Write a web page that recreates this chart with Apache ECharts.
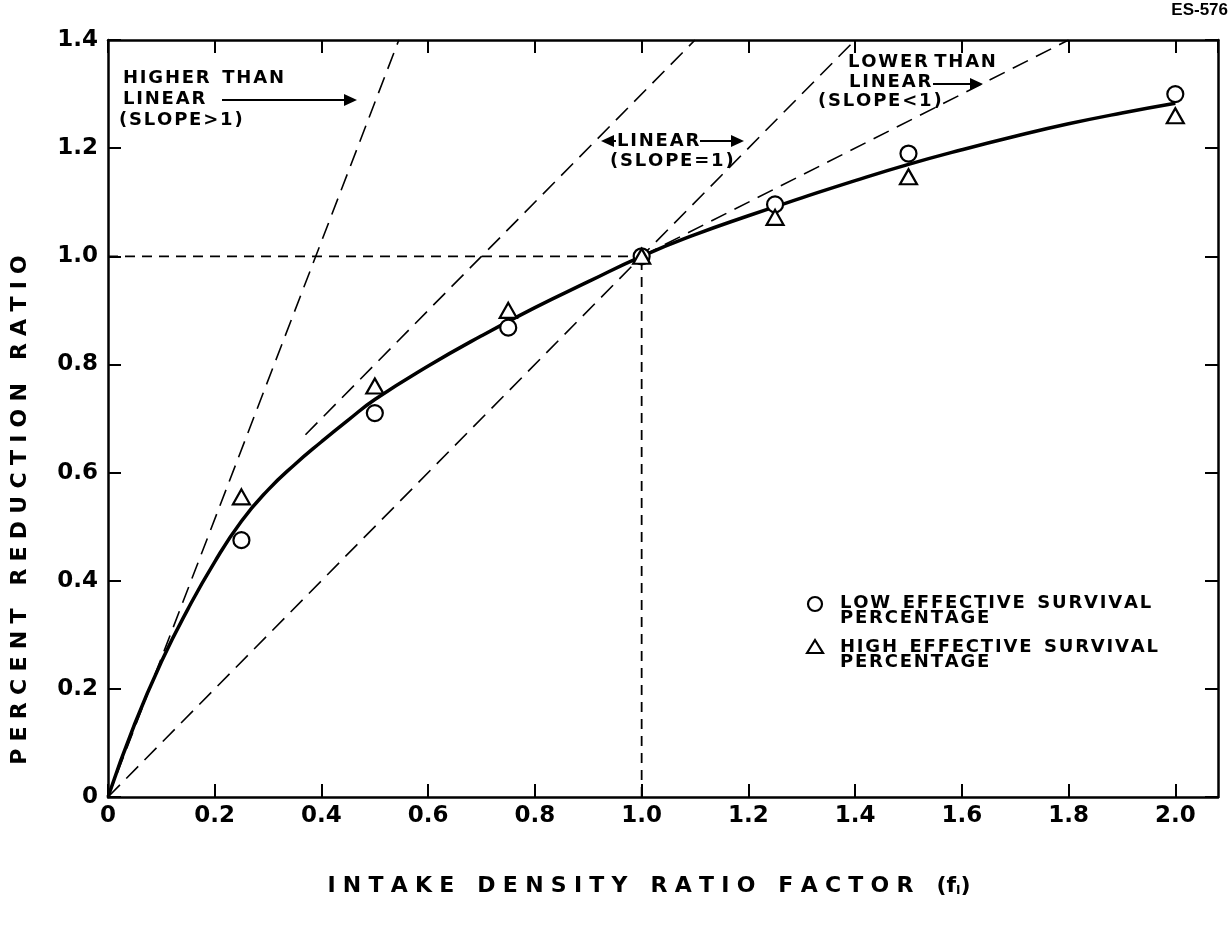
<!DOCTYPE html>
<html>
<head>
<meta charset="utf-8">
<script src="https://cdn.jsdelivr.net/npm/echarts@6/dist/echarts.min.js"></script>
<style>
  html, body { margin: 0; padding: 0; background: #fff; }
  #chart { width: 1231px; height: 928px; }
</style>
</head>
<body>
<div id="chart"></div>
<script>
// ---------------- data ----------------
const xTicks = [0, 0.2, 0.4, 0.6, 0.8, 1.0, 1.2, 1.4, 1.6, 1.8, 2.0];
const yTicks = [0, 0.2, 0.4, 0.6, 0.8, 1.0, 1.2, 1.4];

// fitted (hand drawn) curve
const curveX = [0, 0.05, 0.1, 0.15, 0.2, 0.25, 0.3, 0.35, 0.4, 0.45, 0.5, 0.6, 0.7, 0.8, 0.9, 1.0, 1.1, 1.2, 1.3, 1.4, 1.5, 1.6, 1.7, 1.8, 1.9, 2.0];
const curveY = [0, 0.135, 0.25, 0.348, 0.435, 0.51, 0.568, 0.615, 0.657, 0.697, 0.735, 0.797, 0.853, 0.905, 0.953, 1.0, 1.04, 1.075, 1.108, 1.14, 1.17, 1.197, 1.222, 1.245, 1.265, 1.283];

// low effective survival percentage (circles)
const lowX = [0.25, 0.5, 0.75, 1.0, 1.25, 1.5, 2.0];
const lowY = [0.475, 0.71, 0.868, 1.0, 1.096, 1.19, 1.30];

// high effective survival percentage (triangles)
const highX = [0.25, 0.5, 0.75, 1.0, 1.25, 1.5, 2.0];
const highY = [0.555, 0.76, 0.90, 1.0, 1.072, 1.147, 1.26];

// reference lines (end points)
const steepX = [0, 0.545];   const steepY = [0, 1.4];    // slope > 1
const tangX  = [0.37, 1.1];  const tangY  = [0.67, 1.4]; // slope = 1 (upper)
const linX   = [0, 1.4];     const linY   = [0, 1.4];    // slope = 1 through origin
const lowerX = [1.0, 1.8];   const lowerY = [1.0, 1.4];  // slope < 1
const hRefX  = [0, 1.0];     const hRefY  = [1.0, 1.0];
const vRefX  = [1.0, 1.0];   const vRefY  = [0, 1.0];

const legendNames = ['LOW EFFECTIVE SURVIVAL PERCENTAGE', 'HIGH EFFECTIVE SURVIVAL PERCENTAGE'];

// ---------------- helpers ----------------
const zip = (xs, ys) => xs.map((x, i) => [x, ys[i]]);
const FONT = '"DejaVu Sans", "Liberation Sans", sans-serif';
const HAIR = '\u200A', THREE = '\u2004';
const spaced = (s, g, wg) => s.split(' ').map(w => w.split('').join(g)).join(wg);

function dashLine(name, xs, ys, dash, width) {
  return {
    name, type: 'line', data: zip(xs, ys), showSymbol: false, silent: true,
    lineStyle: { color: '#000', width: width, type: dash }, z: 2
  };
}

const chart = echarts.init(document.getElementById('chart'), null, { renderer: 'canvas' });

const axisCommon = {
  type: 'value',
  splitLine: { show: false },
  axisLine: { show: true, onZero: false, lineStyle: { color: '#000', width: 2.5 } },
  axisTick: { show: true, inside: true, length: 13, lineStyle: { color: '#000', width: 2 } }
};
const tickFmt = v => {
  if (Math.abs(v * 5 - Math.round(v * 5)) > 1e-6) return '';
  return v === 0 ? '0' : v.toFixed(1);
};

const ann = (text, x, y, size, align, wordGap) => ({
  type: 'text', x, y, silent: true,
  style: { text: spaced(text, HAIR, wordGap === undefined ? '  ' : wordGap), fontSize: size, fontWeight: 'bold', fontFamily: FONT, fill: '#000',
           textAlign: align || 'left', textVerticalAlign: 'middle' }
});

const arrowRight = (x1, x2, y) => [
  { type: 'line', shape: { x1, y1: y, x2: x2 - 10, y2: y }, style: { stroke: '#000', lineWidth: 2 }, silent: true },
  { type: 'polygon', shape: { points: [[x2 - 13, y - 6], [x2, y], [x2 - 13, y + 6]] }, style: { fill: '#000' }, silent: true }
];
const arrowLeftHead = (x, y) => ({
  type: 'polygon', shape: { points: [[x + 13, y - 6], [x, y], [x + 13, y + 6]] }, style: { fill: '#000' }, silent: true
});

const option = {
  backgroundColor: '#fff',
  animation: false,
  grid: { left: 108, right: 13, top: 40, bottom: 131, containLabel: false },
  xAxis: [
    Object.assign({}, axisCommon, {
      position: 'bottom', min: 0, max: 2.08, interval: 0.2,
      axisLabel: { formatter: tickFmt, fontSize: 23, fontWeight: 'bold', fontFamily: FONT, color: '#000', margin: 8, showMaxLabel: false }
    }),
    Object.assign({}, axisCommon, {
      position: 'top', min: 0, max: 2.08, interval: 0.2, axisLabel: { show: false }
    })
  ],
  yAxis: [
    Object.assign({}, axisCommon, {
      position: 'left', min: 0, max: 1.4, interval: 0.2,
      axisLabel: { formatter: tickFmt, fontSize: 23, fontWeight: 'bold', fontFamily: FONT, color: '#000', margin: 10 }
    }),
    Object.assign({}, axisCommon, {
      position: 'right', min: 0, max: 1.4, interval: 0.2, axisLabel: { show: false }
    })
  ],
  series: [
    dashLine('steep', steepX, steepY, [17, 9], 1.6),
    dashLine('tangent', tangX, tangY, [17, 9], 1.6),
    dashLine('linear', linX, linY, [17, 9], 1.6),
    dashLine('lower', lowerX, lowerY, [17, 9], 1.6),
    dashLine('hRef', hRefX, hRefY, [10, 7], 1.8),
    dashLine('vRef', vRefX, vRefY, [10, 7], 1.8),
    {
      name: 'curve', type: 'line', data: zip(curveX, curveY), smooth: 0.5,
      showSymbol: false, silent: true, z: 3,
      lineStyle: { color: '#000', width: 3.5 }
    },
    {
      name: legendNames[0], type: 'scatter', data: zip(lowX, lowY), symbol: 'circle', symbolSize: 16, z: 5,
      itemStyle: { color: '#fff', borderColor: '#000', borderWidth: 2.2, opacity: 1 }
    },
    {
      name: legendNames[1], type: 'scatter', data: zip(highX, highY), symbol: 'triangle', symbolSize: [17, 15], z: 5,
      itemStyle: { color: '#fff', borderColor: '#000', borderWidth: 2.2, opacity: 1 }
    }
  ],
  graphic: [
    {
      type: 'text', x: 1228, y: 10, silent: true,
      style: { text: 'ES-576', fontSize: 17, fontWeight: 'bold', fontFamily: '"Liberation Sans", Arial, sans-serif',
               fill: '#000', textAlign: 'right', textVerticalAlign: 'middle' }
    },
    // HIGHER THAN LINEAR
    ann('HIGHER THAN', 123, 78, 18),
    ann('LINEAR', 123, 99, 18),
    ann('(SLOPE>1)', 119, 120, 18),
    ...arrowRight(222, 357, 100),
    // LINEAR
    arrowLeftHead(601, 141),
    { type: 'line', shape: { x1: 610, y1: 141, x2: 616, y2: 141 }, style: { stroke: '#000', lineWidth: 2 }, silent: true },
    ann('LINEAR', 617, 141, 18),
    ...arrowRight(700, 744, 141),
    ann('(SLOPE=1)', 610, 161, 18),
    // LOWER THAN LINEAR
    ann('LOWER THAN', 848, 62, 18, 'left', ' '),
    ann('LINEAR', 849, 82, 18),
    ...arrowRight(933, 983, 84),
    ann('(SLOPE<1)', 818, 101, 18),
    // legend
    { type: 'circle', shape: { cx: 815, cy: 604, r: 7 }, style: { fill: '#fff', stroke: '#000', lineWidth: 2.2 }, silent: true },
    ann('LOW EFFECTIVE SURVIVAL', 840, 603, 18),
    ann('PERCENTAGE', 840, 618, 18),
    { type: 'polygon', shape: { points: [[807, 653], [815, 640], [823, 653]] }, style: { fill: '#fff', stroke: '#000', lineWidth: 2.2 }, silent: true },
    ann('HIGH EFFECTIVE SURVIVAL', 840, 647, 18),
    ann('PERCENTAGE', 840, 662, 18),
    // axis titles
    {
      type: 'text', x: 649, y: 886, silent: true,
      style: {
        text: spaced('INTAKE DENSITY RATIO FACTOR', THREE, '   ') + '   (f{sub|I})',
        fontSize: 22, fontWeight: 'bold', fontFamily: FONT, fill: '#000',
        textAlign: 'center', textVerticalAlign: 'middle',
        rich: { sub: { fontSize: 12, fontWeight: 'bold', fontFamily: FONT, fill: '#000', verticalAlign: 'bottom', padding: [10, 0, 0, 0] } }
      }
    },
    {
      type: 'text', x: 20, y: 510, rotation: Math.PI / 2, silent: true,
      style: {
        text: spaced('PERCENT REDUCTION RATIO', THREE, '   '),
        fontSize: 22, fontWeight: 'bold', fontFamily: FONT, fill: '#000',
        textAlign: 'center', textVerticalAlign: 'middle'
      }
    }
  ]
};

chart.setOption(option);
</script>
</body>
</html>
